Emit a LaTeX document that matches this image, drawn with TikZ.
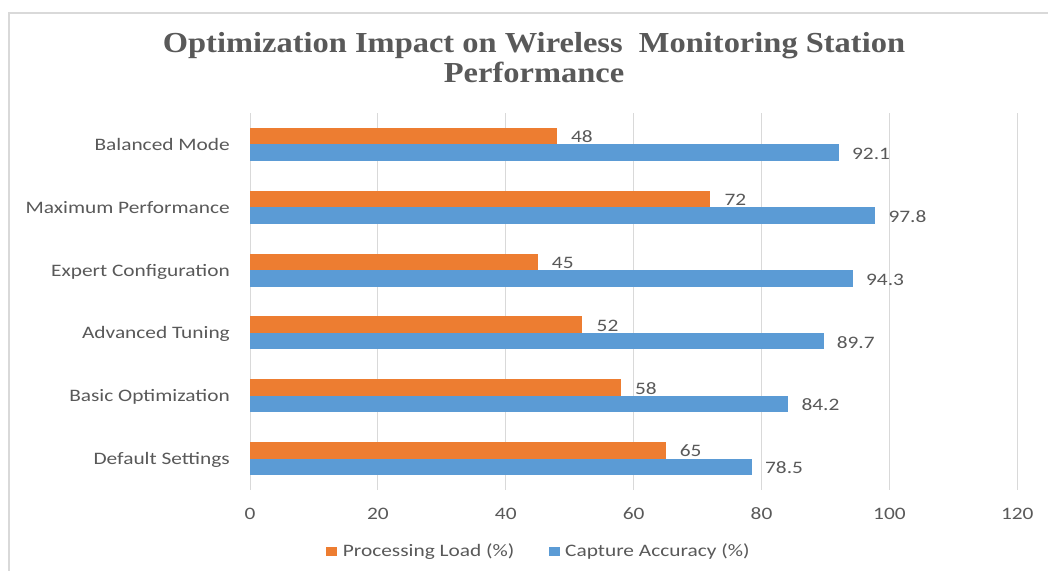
\documentclass[tikz,border=0pt]{standalone}
\usepackage{fontspec}
\newfontfamily\lblfont[FakeStretch=1.22]{Carlito}
\newfontfamily\ttlfont[FakeStretch=1.12]{Liberation Serif}
\definecolor{txt}{HTML}{595959}
\definecolor{gridc}{HTML}{D9D9D9}
\definecolor{orng}{HTML}{ED7D31}
\definecolor{blu}{HTML}{5B9BD5}
\begin{document}
\begin{tikzpicture}[x=1pt,y=-1pt,
  lbl/.style={font=\lblfont\fontsize{17.5}{20}\selectfont, text=txt, inner sep=0pt},
  ttl/.style={font=\ttlfont\bfseries\fontsize{29}{30}\selectfont, text=txt, inner sep=0pt, anchor=base},
  gridline/.style={draw=gridc, line width=1pt},
  barP/.style={fill=orng},
  barC/.style={fill=blu}]
\useasboundingbox (0,0) rectangle (1048,570);
\fill[white] (0,0) rectangle (1048,570);
% chart border
\draw[gridc, line width=1.5pt] (9,575) -- (9,13) -- (1055,13);
% title
\node[ttl] (title1) at (534,52) {Optimization Impact on Wireless\ \ Monitoring Station};
\node[ttl] (title2) at (534,82) {Performance};
% grid and tick labels
\foreach \k/\v in {0/0,1/20,2/40,3/60,4/80,5/100,6/120}{
  \pgfmathsetmacro\gx{250+127.88*\k}
  \coordinate (gt\k) at (\gx,113);
  \coordinate (gb\k) at (\gx,490);
  \draw[gridline] (gt\k) -- (gb\k);
  \node[lbl, anchor=base] (tick\k) at (\gx,519.5) {\v};
}
% bars
\foreach \i/\name/\p/\c in {0/Balanced Mode/48/92.1, 1/Maximum Performance/72/97.8, 2/Expert Configuration/45/94.3, 3/Advanced Tuning/52/89.7, 4/Basic Optimization/58/84.2, 5/Default Settings/65/78.5}{
  \pgfmathsetmacro\yc{113+62.833*(\i+0.5)}
  \pgfmathsetmacro\xp{250+6.394*\p}
  \pgfmathsetmacro\xc{250+6.394*\c}
  \fill[barP] (250,\yc-16.5) rectangle (\xp,\yc);
  \fill[barC] (250,\yc) rectangle (\xc,\yc+16.5);
  \node[lbl, anchor=base east] (cat\i) at (230,\yc+6) {\name};
  \node[lbl, anchor=base west] (pl\i) at (\xp+14,\yc-1.6) {\p};
  \node[lbl, anchor=base west] (ca\i) at (\xc+13,\yc+15.1) {\c};
}
% legend
\fill[orng] (326,547) rectangle (336.5,555.5);
\node[lbl, anchor=base west] (legP) at (342.7,556) {Processing Load (\%)};
\fill[blu] (549.3,547) rectangle (560,555.5);
\node[lbl, anchor=base west] (legC) at (565,556) {Capture Accuracy (\%)};
\end{tikzpicture}
\end{document}
